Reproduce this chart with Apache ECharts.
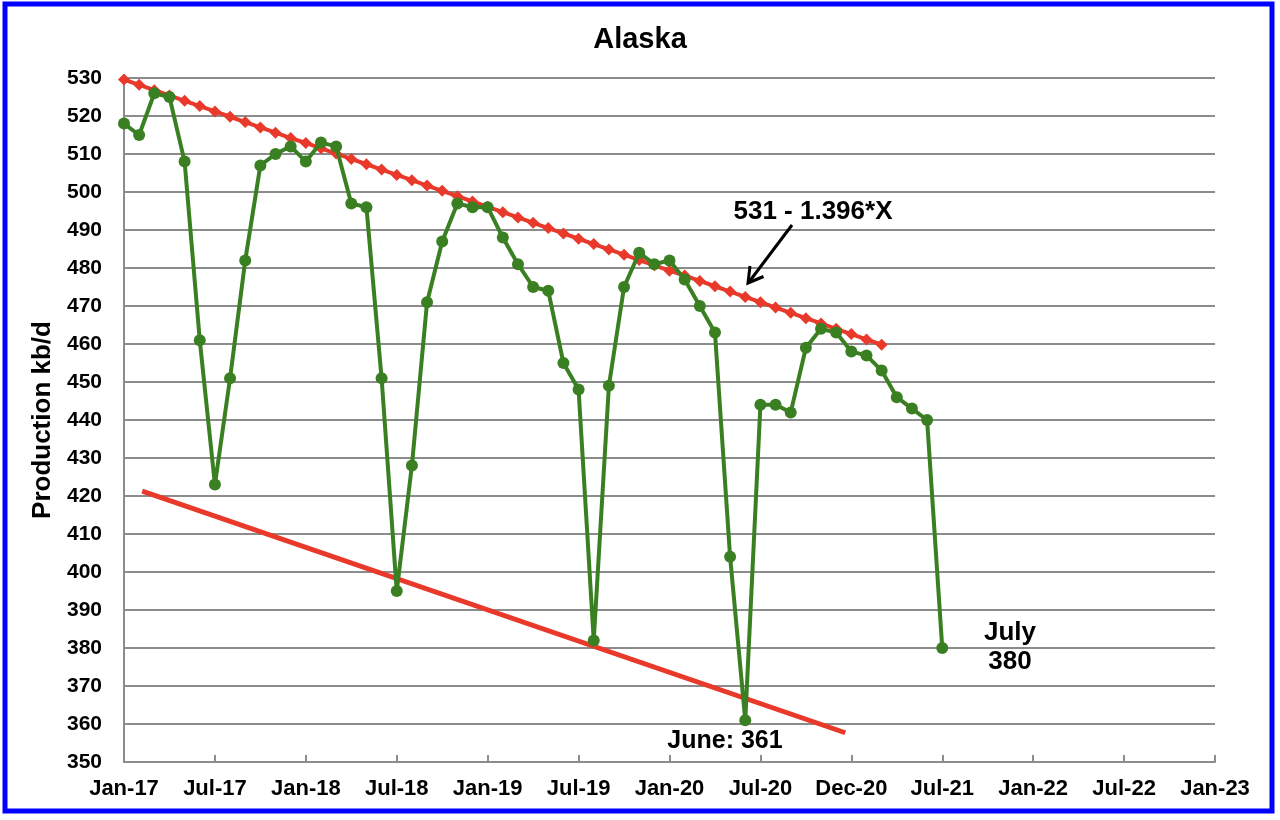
<!DOCTYPE html>
<html>
<head>
<meta charset="utf-8">
<script src="https://cdn.jsdelivr.net/npm/echarts@6/dist/echarts.min.js"></script>
<style>
  html, body { margin: 0; padding: 0; background: #ffffff; }
  #chart { width: 1280px; height: 820px; }
</style>
</head>
<body>
<div id="chart"></div>
<script>
// Tick labels of the date axis (one every 6 months, Jan-17 .. Jan-23)
const xTickLabels = ['Jan-17','Jul-17','Jan-18','Jul-18','Jan-19','Jul-19','Jan-20','Jul-20','Dec-20','Jul-21','Jan-22','Jul-22','Jan-23'];

// Monthly months (Jan-17 .. Jul-21)
const months = ['Jan-17','Feb-17','Mar-17','Apr-17','May-17','Jun-17','Jul-17','Aug-17','Sep-17','Oct-17','Nov-17','Dec-17',
  'Jan-18','Feb-18','Mar-18','Apr-18','May-18','Jun-18','Jul-18','Aug-18','Sep-18','Oct-18','Nov-18','Dec-18',
  'Jan-19','Feb-19','Mar-19','Apr-19','May-19','Jun-19','Jul-19','Aug-19','Sep-19','Oct-19','Nov-19','Dec-19',
  'Jan-20','Feb-20','Mar-20','Apr-20','May-20','Jun-20','Jul-20','Aug-20','Sep-20','Oct-20','Nov-20','Dec-20',
  'Jan-21','Feb-21','Mar-21','Apr-21','May-21','Jun-21','Jul-21'];

// Alaska production, kb/d
const production = [518,515,526,525,508,461,423,451,482,507,510,512,
  508,513,512,497,496,451,395,428,471,487,497,496,
  496,488,481,475,474,455,448,382,449,475,484,481,
  482,477,470,463,404,361,444,444,442,459,464,463,
  458,457,453,446,443,440,380];

// Red trend line points (531 - 1.396*X), Jan-17 .. Mar-21
const trend = [529.6,528.2,526.8,525.4,524.0,522.6,521.2,519.8,518.4,517.0,515.6,514.2,
  512.9,511.5,510.1,508.7,507.3,505.9,504.5,503.1,501.7,500.3,498.9,497.5,
  496.1,494.7,493.3,491.9,490.5,489.1,487.7,486.3,484.9,483.5,482.1,480.7,
  479.3,478.0,476.6,475.2,473.8,472.4,471.0,469.6,468.2,466.8,465.4,464.0,
  462.6,461.2,459.8];

// Lower support line (month index, value)
const lowLineX = [1.2, 47.6];
const lowLineY = [421.3, 357.7];

const FONT = '"Liberation Sans", Arial, Helvetica, sans-serif';
const GRID_GRAY = '#8c8c8c';
const GREEN = '#3a7f22';
const RED = '#e8392b';

const chart = echarts.init(document.getElementById('chart'), null, { renderer: 'canvas' });

const option = {
  backgroundColor: '#ffffff',
  animation: false,
  title: {
    text: 'Alaska',
    left: 'center',
    top: 20,
    textStyle: { fontFamily: FONT, fontSize: 29, fontWeight: 'bold', color: '#000' }
  },
  grid: { left: 124, right: 65, top: 78, bottom: 58, containLabel: false },
  xAxis: {
    type: 'value',
    min: 0, max: 72, interval: 6,
    axisLine: { show: true, lineStyle: { color: GRID_GRAY, width: 2 } },
    axisTick: { show: true, inside: true, length: 7, lineStyle: { color: GRID_GRAY, width: 2 } },
    splitLine: { show: false },
    axisLabel: {
      margin: 16,
      fontFamily: FONT, fontSize: 22, fontWeight: 'bold', color: '#000',
      formatter: function (v) { return xTickLabels[Math.round(v / 6)] || ''; }
    }
  },
  yAxis: {
    type: 'value',
    min: 350, max: 530, interval: 10,
    name: 'Production kb/d',
    nameLocation: 'middle',
    nameGap: 60,
    nameRotate: 90,
    nameTextStyle: { fontFamily: FONT, fontSize: 26, fontWeight: 'bold', color: '#000' },
    axisLine: { show: true, lineStyle: { color: GRID_GRAY, width: 2 } },
    axisTick: { show: false },
    splitLine: { show: true, lineStyle: { color: GRID_GRAY, width: 2 } },
    axisLabel: { margin: 22, fontFamily: FONT, fontSize: 21, fontWeight: 'bold', color: '#000' }
  },
  series: [
    {
      name: 'support',
      type: 'line',
      data: lowLineX.map((x, i) => [x, lowLineY[i]]),
      showSymbol: false,
      symbol: 'none',
      lineStyle: { color: RED, width: 5 },
      z: 2
    },
    {
      name: 'trend',
      type: 'line',
      data: trend.map((v, i) => [i, v]),
      symbol: 'diamond',
      symbolSize: 12,
      itemStyle: { color: RED },
      lineStyle: { color: RED, width: 4 },
      z: 3
    },
    {
      name: 'Alaska',
      type: 'line',
      data: production.map((v, i) => [i, v]),
      symbol: 'circle',
      symbolSize: 12,
      itemStyle: { color: GREEN },
      lineStyle: { color: GREEN, width: 4 },
      z: 4
    }
  ],
  graphic: [
    {
      type: 'rect',
      shape: { x: 5, y: 4, width: 1267, height: 807 },
      style: { fill: 'none', stroke: '#0000ff', lineWidth: 5 },
      z: 100
    },
    {
      type: 'text',
      x: 813, y: 212,
      style: { text: '531 - 1.396*X', fontFamily: FONT, fontSize: 26, fontWeight: 'bold', fill: '#000', align: 'center', verticalAlign: 'middle' },
      z: 100
    },
    {
      type: 'line',
      shape: { x1: 792, y1: 225, x2: 749, y2: 282 },
      style: { stroke: '#000', lineWidth: 3 },
      z: 100
    },
    {
      type: 'polyline',
      shape: { points: [[763.5, 276.5], [748, 283], [750, 266]] },
      style: { stroke: '#000', lineWidth: 3, fill: 'none', lineJoin: 'miter' },
      z: 100
    },
    {
      type: 'text',
      x: 725, y: 741,
      style: { text: 'June: 361', fontFamily: FONT, fontSize: 25, fontWeight: 'bold', fill: '#000', align: 'center', verticalAlign: 'middle' },
      z: 100
    },
    {
      type: 'text',
      x: 1010, y: 633,
      style: { text: 'July', fontFamily: FONT, fontSize: 26, fontWeight: 'bold', fill: '#000', align: 'center', verticalAlign: 'middle' },
      z: 100
    },
    {
      type: 'text',
      x: 1010, y: 662,
      style: { text: '380', fontFamily: FONT, fontSize: 26, fontWeight: 'bold', fill: '#000', align: 'center', verticalAlign: 'middle' },
      z: 100
    }
  ]
};

chart.setOption(option);
</script>
</body>
</html>
